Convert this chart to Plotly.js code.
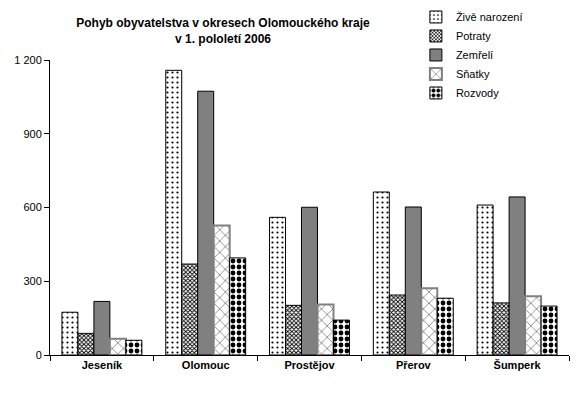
<!DOCTYPE html>
<html><head><meta charset="utf-8">
<script src="https://cdn.plot.ly/plotly-3.0.1.min.js"></script>
<style>body{margin:0;background:#fff}#c{width:580px;height:399px}</style>
</head><body><div id="c"></div>
<script>
var categories = ['Jeseník', 'Olomouc', 'Prostějov', 'Přerov', 'Šumperk'];
var zive = [174, 1158, 560, 663, 610];
var potraty = [88, 370, 202, 244, 212];
var zemreli = [218, 1073, 601, 602, 643];
var snatky = [66, 527, 205, 272, 239];
var rozvody = [60, 395, 142, 231, 199];
var seriesNames = ['Živě narození', 'Potraty', 'Zemřelí', 'Sňatky', 'Rozvody'];
var yTickVals = [0, 300, 600, 900, 1200];

var F = 'Liberation Sans, Arial, sans-serif';
function tr(name, y, marker) {
  return {type: 'bar', name: name, x: categories, y: y, marker: marker,
          hoverinfo: 'none'};
}
var data = [
  tr(seriesNames[0], zive, {color: 'white', line: {color: 'black', width: 1},
     pattern: {shape: '.', fgcolor: 'black', bgcolor: 'white', size: 5, solidity: 0.15}}),
  tr(seriesNames[1], potraty, {color: 'white', line: {color: 'black', width: 1},
     pattern: {shape: 'x', fgcolor: 'black', bgcolor: 'white', size: 3, solidity: 0.5}}),
  tr(seriesNames[2], zemreli, {color: '#808080', line: {color: 'black', width: 1}}),
  tr(seriesNames[3], snatky, {color: 'white', line: {color: '#808080', width: 2},
     pattern: {shape: 'x', fgcolor: 'black', bgcolor: 'white', size: 8, solidity: 0.1}}),
  tr(seriesNames[4], rozvody, {color: 'white', line: {color: 'black', width: 1},
     pattern: {shape: '.', fgcolor: 'black', bgcolor: 'white', size: 6, solidity: 0.5}})
];
var layout = {
  width: 580, height: 399,
  margin: {l: 50, r: 11, t: 60, b: 44, autoexpand: false},
  paper_bgcolor: 'white', plot_bgcolor: 'white',
  font: {family: F, size: 11, color: 'black'},
  separators: ', ',
  title: {text: 'Pohyb obyvatelstva v okresech Olomouckého kraje<br>v 1. pololetí 2006',
          font: {family: F, size: 12, color: 'black', weight: 'bold'},
          x: 223/580, xanchor: 'center', yref: 'container', y: 1 - 27/399, yanchor: 'middle'},
  barmode: 'group', bargap: 0.23, bargroupgap: 0,
  showlegend: true,
  legend: {x: 0.705, xanchor: 'left', y: 1.195, yanchor: 'top',
           font: {family: F, size: 11}, bgcolor: 'rgba(0,0,0,0)',
           itemwidth: 30, tracegroupgap: 0},
  xaxis: {showline: true, linecolor: 'black', linewidth: 1, ticks: 'outside',
          tickson: 'boundaries', ticklen: 5, tickcolor: 'black',
          tickfont: {family: F, size: 11, weight: 'bold'}, showgrid: false},
  yaxis: {range: [0, 1200], showline: true, linecolor: 'black', linewidth: 1,
          ticks: 'outside', ticklen: 5, tickcolor: 'black', tickvals: yTickVals,
          tickformat: ',d', showgrid: false, zeroline: false,
          tickfont: {family: F, size: 11}}
};
Plotly.newPlot('c', data, layout, {staticPlot: true});
</script></body></html>
